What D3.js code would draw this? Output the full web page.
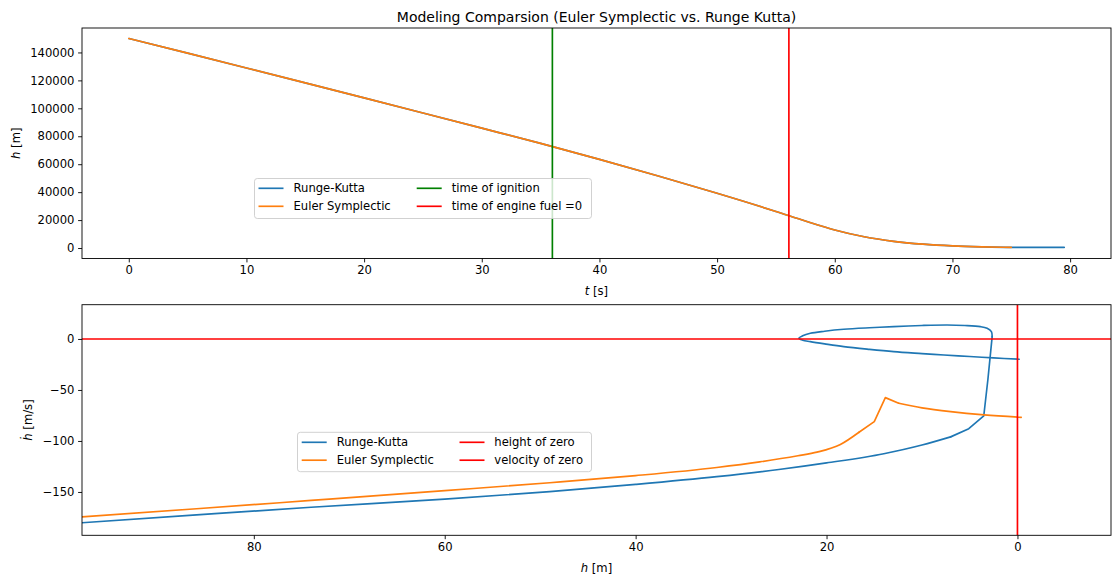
<!DOCTYPE html>
<html><head><meta charset="utf-8">
<script src="https://cdn.jsdelivr.net/npm/d3@7"></script>
<style>body{margin:0;background:#fff} svg{display:block;font-family:"DejaVu Sans",sans-serif}</style>
</head><body><svg id="c" width="1113" height="581"></svg>
<script>
// ---- data: top panel (h vs t) ----
const tEuler = [0,5,10,15,20,25,30,35,40,45,50,55,57.5,60,62.5,65,67.5,70,72.5,75];
const hEuler = [150000,139500,128900,118200,107450,96650,85800,74900,63450,51550,39200,26200,19325,12925,8050,4800,2750,1500,820,450];
const tRK = [0,5,10,15,20,25,30,35,40,45,50,55,57.5,60,62.5,65,67.5,70,72.5,75,77.5,79.5];
const hRK = [150000,139500,128900,118200,107450,96650,85800,74900,63450,51550,39200,26200,19325,12925,8050,4800,2750,1500,820,450,430,430];
const tIgnition = 36;
const tFuelOut = 56.1;
const topXTicks = [0,10,20,30,40,50,60,70,80];
const topYTicks = [0,20000,40000,60000,80000,100000,120000,140000];

// ---- data: bottom panel (hdot vs h) ----
const rkH = [98,86,74,60,49,40,31.5,25,20,14,10,7,5.1,3.53,3.1,2.65,2.73,3.18,3.88,5.5,7.37,10,12.97,15.5,18.2,20.2,21.7,22.5,22.9,22.5,21.7,20.2,18.2,15.5,12.97,10,7.7,5,2.5,-0.18];
const rkV = [-180.2,-172.5,-165,-157,-149.7,-142.6,-135,-128,-121.5,-112.5,-104,-96,-88,-75.5,-40,2.3,7.2,10.5,12.1,13.2,13.7,13.2,12.1,11.0,9.5,7.6,5.6,3.2,0.7,-1.2,-2.6,-4.8,-7.5,-10.2,-12.4,-14.3,-15.7,-17.2,-18.6,-19.9];
const eulerH = [98,86,74,60,49,40,31.5,27,23,21,18.55,16.6,15.0,13.84,12.44,10,7.0,3.5,-0.4];
const eulerV = [-174.5,-166.5,-158.3,-148.7,-141,-134,-126,-120.5,-114.5,-111,-103.5,-91.5,-81.1,-57.5,-63,-67.5,-71.3,-74.5,-76.8];
const botXTicks = [80,60,40,20,0];
const botYTicks = [-150,-100,-50,0];

const title = "Modeling Comparsion (Euler Symplectic vs. Runge Kutta)";
const C = {blue:"#1f77b4", orange:"#ff7f0e", green:"#008000", red:"#ff0000"};

const svg = d3.select("#c");
const L = 82, R = 1111;
const FS = 11.6;

function makeAxes(y0, y1, xd, yd, xt, yt, fmtY){
  const x = d3.scaleLinear().domain(xd).range([L,R]);
  const y = d3.scaleLinear().domain(yd).range([y1,y0]);
  const g = svg.append("g");
  const id = "clip"+Math.round(y0);
  svg.append("clipPath").attr("id",id).append("rect").attr("x",L).attr("y",y0).attr("width",R-L).attr("height",y1-y0);
  const plot = g.append("g").attr("clip-path",`url(#${id})`);
  const ax = g.append("g").attr("transform",`translate(0,${y1})`)
    .call(d3.axisBottom(x).tickValues(xt).tickSize(3.9).tickPadding(3.6).tickFormat(d3.format("d")));
  const ay = g.append("g").attr("transform",`translate(${L},0)`)
    .call(d3.axisLeft(y).tickValues(yt).tickSize(3.9).tickPadding(3.6).tickFormat(fmtY));
  [ax,ay].forEach(a=>{
    a.select(".domain").remove();
    a.selectAll("text").attr("font-size",FS).attr("fill","#000").attr("font-family","DejaVu Sans");
    a.selectAll("line").attr("stroke","#000").attr("stroke-width",0.9);
  });
  g.append("rect").attr("x",L).attr("y",y0).attr("width",R-L).attr("height",y1-y0)
    .attr("fill","none").attr("stroke","#000").attr("stroke-width",0.9);
  return {x,y,plot,g};
}

function seg(plot, xs, ys, x, y, i0, i1, curve, color){
  const pts = xs.slice(i0, i1+1).map((v,i)=>[v, ys[i0+i]]);
  const ln = d3.line().x(d=>x(d[0])).y(d=>y(d[1])).curve(curve);
  plot.append("path").attr("d", ln(pts)).attr("fill","none").attr("stroke",color)
    .attr("stroke-width",1.67).attr("stroke-linejoin","round").attr("stroke-linecap","round");
}

// ---------- top panel ----------
const T = makeAxes(28, 258.5, [-3.975, 83.475], [-7500, 157500], topXTicks, topYTicks, d3.format("d"));
seg(T.plot, tRK, hRK, T.x, T.y, 0, tRK.length-1, d3.curveMonotoneX, C.blue);
seg(T.plot, tEuler, hEuler, T.x, T.y, 0, tEuler.length-1, d3.curveMonotoneX, C.orange);
T.plot.append("line").attr("x1",T.x(tIgnition)).attr("x2",T.x(tIgnition)).attr("y1",28).attr("y2",258.5)
  .attr("stroke",C.green).attr("stroke-width",1.67);
T.plot.append("line").attr("x1",T.x(tFuelOut)).attr("x2",T.x(tFuelOut)).attr("y1",28).attr("y2",258.5)
  .attr("stroke",C.red).attr("stroke-width",1.67);

svg.append("text").attr("x",(L+R)/2).attr("y",21.5).attr("text-anchor","middle")
  .attr("font-size",14).attr("fill","#000").text(title);

const xl1 = svg.append("text").attr("x",(L+R)/2).attr("y",294.5).attr("text-anchor","middle").attr("font-size",FS).attr("fill","#000");
xl1.append("tspan").attr("font-style","italic").text("t");
xl1.append("tspan").text(" [s]");
const yl1 = svg.append("text").attr("transform",`translate(19.5,${(28+258.5)/2}) rotate(-90)`).attr("text-anchor","middle").attr("font-size",FS).attr("fill","#000");
yl1.append("tspan").attr("font-style","italic").text("h");
yl1.append("tspan").text(" [m]");

// ---------- bottom panel ----------
const B = makeAxes(304.7, 535.3, [98, -9.8], [-192.5, 33.6], botXTicks, botYTicks, d3.format("d"));
seg(B.plot, rkH, rkV, B.x, B.y, 0, 11, d3.curveMonotoneX, C.blue);
seg(B.plot, rkH, rkV, B.x, B.y, 11, 15, d3.curveLinear, C.blue);
seg(B.plot, rkH, rkV, B.x, B.y, 15, rkH.length-1, d3.curveCatmullRom.alpha(0.5), C.blue);
seg(B.plot, eulerH, eulerV, B.x, B.y, 0, 11, d3.curveMonotoneX, C.orange);
seg(B.plot, eulerH, eulerV, B.x, B.y, 11, 14, d3.curveLinear, C.orange);
seg(B.plot, eulerH, eulerV, B.x, B.y, 14, eulerH.length-1, d3.curveMonotoneX, C.orange);
B.plot.append("line").attr("x1",L).attr("x2",R).attr("y1",B.y(0)).attr("y2",B.y(0))
  .attr("stroke",C.red).attr("stroke-width",1.67);
B.plot.append("line").attr("x1",B.x(0)).attr("x2",B.x(0)).attr("y1",304.7).attr("y2",535.3)
  .attr("stroke",C.red).attr("stroke-width",1.67);

const xl2 = svg.append("text").attr("x",(L+R)/2).attr("y",571.5).attr("text-anchor","middle").attr("font-size",FS).attr("fill","#000");
xl2.append("tspan").attr("font-style","italic").text("h");
xl2.append("tspan").text(" [m]");
const yl2 = svg.append("text").attr("transform",`translate(31.5,${(304.7+535.3)/2}) rotate(-90)`).attr("text-anchor","middle").attr("font-size",FS).attr("fill","#000");
yl2.append("tspan").attr("font-style","italic").text("\u1E23");
yl2.append("tspan").text(" [m/s]");

// ---------- legends ----------
function legend(box, items){
  svg.append("rect").attr("x",box.x).attr("y",box.y).attr("width",box.w).attr("height",box.h)
    .attr("rx",2.8).attr("fill","#fff").attr("fill-opacity",0.8).attr("stroke","#cccccc").attr("stroke-width",0.9);
  items.forEach(it=>{
    svg.append("line").attr("x1",it.hx).attr("x2",it.hx+25).attr("y1",it.y).attr("y2",it.y)
      .attr("stroke",it.color).attr("stroke-width",1.67);
    svg.append("text").attr("x",it.tx).attr("y",it.y).attr("dy","0.36em").attr("font-size",FS).attr("fill","#000").text(it.label);
  });
}
legend({x:254.5,y:178.5,w:337,h:40},[
  {hx:258.5,tx:293.5,y:188.3,color:C.blue,label:"Runge-Kutta"},
  {hx:258.5,tx:293.5,y:206.3,color:C.orange,label:"Euler Symplectic"},
  {hx:416.7,tx:451.7,y:188.3,color:C.green,label:"time of ignition"},
  {hx:416.7,tx:451.7,y:206.3,color:C.red,label:"time of engine fuel =0"}
]);
legend({x:297.5,y:432.3,w:294,h:39.4},[
  {hx:301.7,tx:336.7,y:442.3,color:C.blue,label:"Runge-Kutta"},
  {hx:301.7,tx:336.7,y:460.2,color:C.orange,label:"Euler Symplectic"},
  {hx:459.5,tx:494.3,y:442.3,color:C.red,label:"height of zero"},
  {hx:459.5,tx:494.3,y:460.2,color:C.red,label:"velocity of zero"}
]);
</script></body></html>
